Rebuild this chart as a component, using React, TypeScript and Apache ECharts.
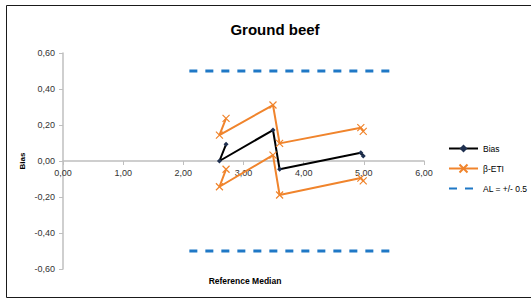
import React, { useEffect, useRef } from "react";
import * as echarts from "echarts";

const refMedian = [2.71, 2.6, 3.49, 3.6, 4.95, 4.99];
const bias = [0.093, 0.0, 0.172, -0.046, 0.046, 0.028];
const etiUpper = [0.237, 0.144, 0.311, 0.098, 0.185, 0.165];
const etiLower = [-0.046, -0.143, 0.033, -0.189, -0.095, -0.11];
const alX = [2.1, 5.55];
const alUpper = [0.5, 0.5];
const alLower = [-0.5, -0.5];

const FONT = "Liberation Sans";
const ORANGE = "#F0842C";
const BLUE = "#1F78C6";

const pairs = (xs: number[], ys: number[]) => xs.map((x, i) => [x, ys[i]]);
const fmt = (v: number) => v.toFixed(2).replace(".", ",");

export default function App() {
  const ref = useRef<HTMLDivElement>(null);
  useEffect(() => {
    if (!ref.current) return;
    const chart = echarts.init(ref.current, null, { renderer: "svg" });
    const xSym = "path://M0,0L10,10M10,0L0,10";
    const etiStyle = {
      type: "line",
      name: "β-ETI",
      symbol: xSym,
      symbolSize: 7,
      lineStyle: { color: ORANGE, width: 2 },
      itemStyle: { color: ORANGE, borderColor: ORANGE, borderWidth: 1.2 },
      z: 3,
    };
    const alStyle = {
      type: "line",
      name: "AL = +/- 0.5",
      symbol: "none",
      lineStyle: { color: BLUE, width: 3, type: [8, 8] },
      itemStyle: { color: BLUE },
      z: 4,
    };
    chart.setOption({
      animation: false,
      backgroundColor: "#fff",
      textStyle: { fontFamily: FONT },
      title: {
        text: "Ground beef",
        left: 270,
        top: 17,
        textAlign: "center",
        textStyle: { fontFamily: FONT, fontSize: 15, fontWeight: "bold", color: "#000" },
      },
      grid: { left: 63, right: 107, top: 53, bottom: 31, containLabel: false },
      legend: {
        orient: "vertical",
        left: 448,
        top: 144,
        padding: 0,
        itemWidth: 29,
        itemHeight: 10,
        itemGap: 10.5,
        data: [
          "Bias",
          "β-ETI",
          { name: "AL = +/- 0.5", itemStyle: { opacity: 0 } },
        ],
        textStyle: { fontFamily: FONT, fontSize: 8.5, color: "#000" },
      },
      xAxis: {
        type: "value",
        min: 0,
        max: 6,
        interval: 1,
        offset: -108,
        axisLine: { show: true, onZero: false, lineStyle: { color: "#BFBFBF", width: 1.5 } },
        axisTick: { show: true, length: 4, lineStyle: { color: "#BFBFBF" } },
        splitLine: { show: false },
        axisLabel: {
          formatter: (v: number) => fmt(v),
          fontFamily: FONT,
          fontSize: 9,
          color: "#333",
          margin: 7,
          showMinLabel: true,
          showMaxLabel: true,
        },
      },
      yAxis: {
        type: "value",
        min: -0.6,
        max: 0.6,
        interval: 0.2,
        name: "Bias",
        nameLocation: "middle",
        nameGap: 37,
        nameMoveOverlap: false,
        nameRotate: 90,
        nameTextStyle: { fontFamily: FONT, fontSize: 8, fontWeight: "bold", color: "#000" },
        axisLine: { show: true, onZero: false, lineStyle: { color: "#BFBFBF", width: 1.5 } },
        axisTick: { show: true, length: 4, lineStyle: { color: "#BFBFBF" } },
        splitLine: { show: false },
        axisLabel: {
          formatter: (v: number) => fmt(v),
          fontFamily: FONT,
          fontSize: 9,
          color: "#333",
          margin: 8,
        },
      },
      graphic: [
        {
          type: "rect",
          shape: { x: 6.5, y: 5.5, width: 540, height: 292 },
          style: { fill: "none", stroke: "#1a1a1a", lineWidth: 1 },
          silent: true,
          z: 100,
        },
        {
          type: "text",
          x: 245,
          y: 281,
          style: {
            text: "Reference Median",
            fontFamily: FONT,
            fontSize: 8.5,
            fontWeight: "bold",
            fill: "#000",
            align: "center",
            verticalAlign: "middle",
          },
        },
      ],
      series: [
        {
          type: "line",
          name: "Bias",
          data: pairs(refMedian, bias),
          symbol: "diamond",
          symbolSize: 5,
          lineStyle: { color: "#000", width: 2 },
          itemStyle: { color: "#1F3050" },
          z: 2,
        },
        { ...etiStyle, data: pairs(refMedian, etiUpper) },
        { ...etiStyle, data: pairs(refMedian, etiLower) },
        { ...alStyle, data: pairs(alX, alUpper) },
        { ...alStyle, data: pairs(alX, alLower) },
      ],
    });
    return () => chart.dispose();
  }, []);
  return (
    <div
      ref={ref}
      style={{ position: "fixed", left: 0, top: 0, width: 531, height: 300 }}
    />
  );
}
